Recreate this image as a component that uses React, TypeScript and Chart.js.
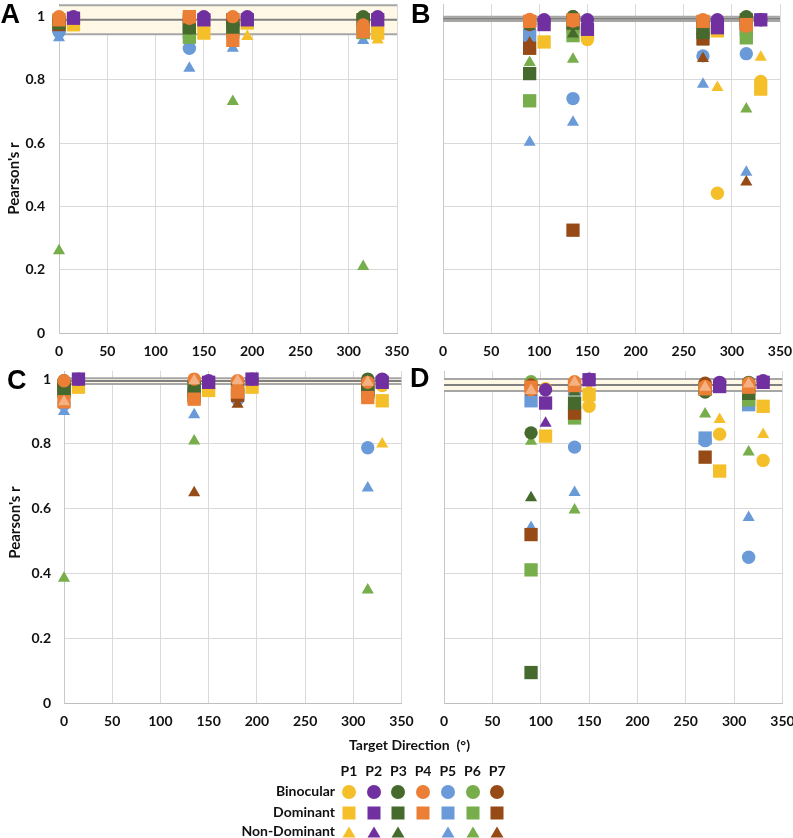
import React, { useEffect, useRef } from 'react';
import { Chart, registerables } from 'chart.js';

Chart.register(...registerables);

// ---------------- DATA ----------------
const participants = ['P1', 'P2', 'P3', 'P4', 'P5', 'P6', 'P7'];
const conditionLabels = ['Binocular', 'Dominant', 'Non-Dominant'];
// P1 and P2 were plotted 15° to the right of each target direction
const participantDirectionOffset = [15, 15, 0, 0, 0, 0, 0];
const xTickValues = [0, 50, 100, 150, 200, 250, 300, 350];
const yTickValues = [0, 0.2, 0.4, 0.6, 0.8, 1];

const directionsA = [0, 135, 180, 315];
const directionsB = [90, 135, 270, 315];
const directionsC = [0, 135, 180, 315];
const directionsD = [90, 135, 270, 315];

// rows P1..P7, columns = directions
const aBinocular = [
  [0.985, 0.975, 0.985, 0.975],
  [1.0, 1.0, 1.0, 1.0],
  [0.985, 0.965, 0.975, 1.0],
  [1.0, 0.995, 1.0, 0.974],
  [0.952, 0.9, 0.975, 0.96],
  [0.99, 0.96, 0.97, 0.953],
  [0.985, 0.99, 0.99, 0.995],
];
const aDominant = [
  [0.975, 0.948, 0.98, 0.948],
  [0.995, 0.99, 0.99, 0.99],
  [0.98, 0.965, 0.965, 0.99],
  [0.99, 1.0, 0.925, 0.953],
  [0.97, 0.95, 0.96, 0.95],
  [0.985, 0.935, 0.952, 0.95],
  [0.975, 0.99, 0.99, 0.99],
];
const aNonDominant = [
  [0.965, 0.97, 0.937, 0.926],
  [0.99, 0.99, 0.99, 0.985],
  [0.98, 0.96, 0.97, 0.985],
  [null, null, null, null],
  [0.933, 0.837, 0.9, 0.925],
  [0.26, 0.95, 0.732, 0.21],
  [0.98, 0.98, 0.985, 0.985],
];

const bBinocular = [
  [0.98, 0.928, 0.442, 0.795],
  [0.99, 0.99, 0.99, 0.99],
  [0.98, 1.0, 0.985, 1.0],
  [0.991, 0.986, 0.99, 0.97],
  [0.97, 0.741, 0.876, 0.883],
  [0.98, 0.97, 0.97, 0.96],
  [0.975, 1.0, 0.98, 0.995],
];
const bDominant = [
  [0.92, 0.95, 0.955, 0.771],
  [0.975, 0.96, 0.965, 0.99],
  [0.82, 0.98, 0.95, 0.99],
  [0.985, 0.99, 0.985, 0.975],
  [0.94, 0.97, 0.97, 0.96],
  [0.734, 0.94, 0.96, 0.933],
  [0.9, 0.325, 0.93, 0.98],
];
const bNonDominant = [
  [0.97, 0.96, 0.776, 0.872],
  [0.985, 0.975, 0.98, 0.985],
  [0.97, 0.945, 0.965, 0.985],
  [null, null, null, null],
  [0.603, 0.666, 0.786, 0.508],
  [0.855, 0.865, 0.92, 0.708],
  [0.917, 0.97, 0.868, 0.477],
];

const cBinocular = [
  [0.985, 0.97, 0.985, 0.98],
  [1.0, 0.995, 1.0, 1.0],
  [0.995, 0.99, 0.99, 1.0],
  [0.995, 1.0, 0.995, 0.99],
  [0.922, 0.97, 0.938, 0.788],
  [0.99, 0.98, 0.98, 0.98],
  [0.98, 0.99, 0.985, 0.99],
];
const cDominant = [
  [0.975, 0.965, 0.975, 0.933],
  [1.0, 0.99, 1.0, 0.99],
  [0.964, 0.964, 0.965, 0.959],
  [0.93, 0.938, 0.96, 0.943],
  [0.96, 0.96, 0.95, 0.97],
  [0.98, 0.945, 0.955, 0.97],
  [0.97, 0.95, 0.95, 0.965],
];
const cNonDominant = [
  [0.98, 0.97, 0.98, 0.8],
  [0.995, 0.99, 0.995, 0.985],
  [0.98, 0.975, 0.975, 0.975],
  [0.93, 0.995, 0.995, 0.99],
  [0.9, 0.89, 0.94, 0.664],
  [0.385, 0.809, 0.96, 0.349],
  [0.97, 0.649, 0.922, 0.98],
];

const dBinocular = [
  [0.97, 0.916, 0.83, 0.749],
  [0.967, 1.0, 0.99, 0.995],
  [0.834, 0.975, 0.96, 0.99],
  [0.967, 0.992, 0.977, 0.987],
  [0.975, 0.79, 0.81, 0.45],
  [0.992, 0.98, 0.98, 0.985],
  [0.982, 0.985, 0.987, 0.98],
];
const dDominant = [
  [0.824, 0.952, 0.716, 0.916],
  [0.926, 0.998, 0.977, 0.99],
  [0.094, 0.926, 0.97, 0.956],
  [0.975, 0.98, 0.97, 0.975],
  [0.933, 0.97, 0.818, 0.921],
  [0.411, 0.88, 0.97, 0.936],
  [0.52, 0.895, 0.759, 0.97],
];
const dNonDominant = [
  [0.93, 0.97, 0.875, 0.829],
  [0.864, 0.99, 0.985, 0.99],
  [0.634, 0.96, 0.975, 0.975],
  [0.965, 0.99, 0.975, 0.985],
  [0.542, 0.65, 0.96, 0.573],
  [0.808, 0.596, 0.892, 0.775],
  [0.96, 0.97, 0.975, 0.975],
];

// mean band: lower, mean, upper
const aMeanBand = [0.944, 0.99, 1.036];
const bMeanBand = [0.986, 0.993, 1.0];
const cMeanBand = [0.985, 0.994, 1.003];
const dMeanBand = [0.963, 0.982, 1.0];

// ---------------- STYLE ----------------
const participantColors = ['#F5BF2A', '#7030A0', '#466A2E', '#EB7F35', '#6A9BD8', '#77AD4A', '#964B17'];
const p4NonDominantColor = '#F4B183';
const markerStyles = ['circle', 'rect', 'triangle'];
const markerRadii = [6.7, 9.4, 7];
const drawParticipants = [0, 1, 4, 5, 6, 2, 3];
const drawConditions = [1, 0, 2];
const PAGE_W = 793;
const PAGE_H = 838;
const FONT = 'Lato, "Open Sans", sans-serif';

type Grid = (number | null)[][];
type PanelSpec = {
  letter: string;
  directions: number[];
  binocular: Grid;
  dominant: Grid;
  nonDominant: Grid;
  band: number[];
  yMax: number;
  plot: { left: number; right: number; top: number; bottom: number };
  showYLabels: boolean;
  yLabelPadding: number;
};

const panels: PanelSpec[] = [
  { letter: 'A', directions: directionsA, binocular: aBinocular, dominant: aDominant, nonDominant: aNonDominant, band: aMeanBand, yMax: 1.04, plot: { left: 59, right: 397, top: 4, bottom: 333 }, showYLabels: true, yLabelPadding: 14 },
  { letter: 'B', directions: directionsB, binocular: bBinocular, dominant: bDominant, nonDominant: bNonDominant, band: bMeanBand, yMax: 1.04, plot: { left: 443, right: 780, top: 4, bottom: 333 }, showYLabels: false, yLabelPadding: 14 },
  { letter: 'C', directions: directionsC, binocular: cBinocular, dominant: cDominant, nonDominant: cNonDominant, band: cMeanBand, yMax: 1.025, plot: { left: 64, right: 401.5, top: 371, bottom: 703 }, showYLabels: true, yLabelPadding: 13 },
  { letter: 'D', directions: directionsD, binocular: dBinocular, dominant: dDominant, nonDominant: dNonDominant, band: dMeanBand, yMax: 1.025, plot: { left: 444, right: 782.5, top: 371, bottom: 703 }, showYLabels: false, yLabelPadding: 14 },
];

const zeroPadding = () => ({ left: 0, top: 0, right: 0, bottom: 0 });

function buildConfig(p: PanelSpec): any {
  const yW = 50;
  const xH = 40;
  const series = [p.binocular, p.dominant, p.nonDominant];
  const datasets: any[] = [];
  let k = 0;
  for (const pi of drawParticipants) {
    for (const ci of drawConditions) {
      const vals = series[ci][pi];
      const color = ci === 2 && pi === 3 ? p4NonDominantColor : participantColors[pi];
      const data = p.directions
        .map((d, i) => ({ x: d + participantDirectionOffset[pi], y: vals[i] }))
        .filter((pt) => pt.y !== null);
      datasets.push({
        type: 'scatter',
        label: `${participants[pi]} ${conditionLabels[ci]}`,
        data,
        pointStyle: markerStyles[ci],
        pointRadius: markerRadii[ci],
        pointHoverRadius: markerRadii[ci],
        pointBackgroundColor: color,
        backgroundColor: color,
        borderColor: color,
        pointBorderWidth: 0,
        borderWidth: 0,
        clip: false,
        order: 500 - k,
      });
      k++;
    }
  }
  const n = datasets.length;
  const lineDs = (v: number, color: string, order: number, extra: any = {}) => ({
    type: 'line',
    data: [{ x: 0, y: v }, { x: 350, y: v }],
    borderColor: color,
    borderWidth: 2,
    pointRadius: 0,
    fill: false,
    order,
    ...extra,
  });
  datasets.push(lineDs(p.band[0], '#A6A6A6', 1000, { fill: n + 1, backgroundColor: '#FFF8E6' }));
  datasets.push(lineDs(p.band[2], '#A6A6A6', 999));
  datasets.push(lineDs(p.band[1], '#808080', 998));

  const tickFont = { family: FONT, size: 14, weight: 'bold' as const };
  return {
    type: 'scatter',
    data: { datasets },
    options: {
      animation: false,
      responsive: false,
      events: [],
      layout: {
        autoPadding: false,
        padding: {
          left: p.plot.left - yW,
          right: PAGE_W - p.plot.right,
          top: p.plot.top,
          bottom: PAGE_H - p.plot.bottom - xH,
        },
      },
      plugins: { legend: { display: false }, tooltip: { enabled: false }, title: { display: false } },
      scales: {
        x: {
          type: 'linear',
          min: 0,
          max: 350,
          afterBuildTicks: (s: any) => { s.ticks = xTickValues.map((v) => ({ value: v })); },
          afterFit: (s: any) => {
            s.height = xH;
            s.paddingLeft = 0; s.paddingRight = 0; s.paddingTop = 0; s.paddingBottom = 0;
            s.getPadding = zeroPadding;
          },
          grid: { color: '#D9D9D9', lineWidth: 1, drawTicks: false },
          border: { color: '#BFBFBF', width: 1 },
          ticks: { font: tickFont, color: '#111', padding: 10, maxRotation: 0, autoSkip: false, callback: (v: any) => String(v) },
        },
        y: {
          type: 'linear',
          min: 0,
          max: p.yMax,
          afterBuildTicks: (s: any) => { s.ticks = yTickValues.map((v) => ({ value: v })); },
          afterFit: (s: any) => {
            s.width = yW;
            s.paddingLeft = 0; s.paddingRight = 0; s.paddingTop = 0; s.paddingBottom = 0;
            s.getPadding = zeroPadding;
          },
          grid: { color: '#D9D9D9', lineWidth: 1, drawTicks: false },
          border: { color: '#C8C8C8', width: 1 },
          ticks: {
            display: p.showYLabels,
            font: tickFont,
            color: '#111',
            padding: p.yLabelPadding,
            autoSkip: false,
            callback: (v: any) => String(Number(Number(v).toFixed(1))),
          },
        },
      },
    },
  };
}

function PanelCanvas({ spec }: { spec: PanelSpec }) {
  const ref = useRef<HTMLCanvasElement | null>(null);
  useEffect(() => {
    if (!ref.current) return;
    const chart: any = new Chart(ref.current, buildConfig(spec));
    // correct any residual layout offsets so the plot area lands where intended
    for (let iter = 0; iter < 3; iter++) {
      const ca = chart.chartArea;
      if (!ca) break;
      const pad = chart.options.layout.padding;
      const dl = spec.plot.left - ca.left;
      const dt = spec.plot.top - ca.top;
      const dr = ca.right - spec.plot.right;
      const db = ca.bottom - spec.plot.bottom;
      if (Math.abs(dl) < 0.3 && Math.abs(dt) < 0.3 && Math.abs(dr) < 0.3 && Math.abs(db) < 0.3) break;
      chart.options.layout.padding = {
        left: pad.left + dl,
        top: pad.top + dt,
        right: pad.right + dr,
        bottom: pad.bottom + db,
      };
      chart.update();
    }
    return () => chart.destroy();
  }, [spec]);
  return (
    <canvas
      ref={ref}
      width={PAGE_W}
      height={PAGE_H}
      style={{ position: 'absolute', left: 0, top: 0, width: PAGE_W, height: PAGE_H }}
    />
  );
}

function Txt({ x, y, size = 14, align = 'center', children }: { x: number; y: number; size?: number; align?: 'center' | 'right' | 'left'; children: any }) {
  const w = 300;
  const left = align === 'center' ? x - w / 2 : align === 'right' ? x - w : x;
  return (
    <div
      style={{
        position: 'absolute',
        left,
        top: y - 0.53 * size,
        width: w,
        textAlign: align,
        fontFamily: FONT,
        fontWeight: 700,
        fontSize: size,
        lineHeight: `${size}px`,
        whiteSpace: 'nowrap',
        color: '#111',
      }}
    >
      {children}
    </div>
  );
}

function YTitle({ cx, cy }: { cx: number; cy: number }) {
  return (
    <div
      style={{
        position: 'absolute',
        left: cx - 60,
        top: cy - 7.5,
        width: 120,
        height: 15,
        lineHeight: '15px',
        textAlign: 'center',
        fontFamily: FONT,
        fontWeight: 700,
        fontSize: 15,
        color: '#111',
        whiteSpace: 'nowrap',
        transform: 'rotate(-90deg)',
        transformOrigin: 'center center',
      }}
    >
      Pearson's r
    </div>
  );
}

function PanelLetter({ x, capTop, children }: { x: number; capTop: number; children: any }) {
  const size = 27;
  return (
    <div
      style={{
        position: 'absolute',
        left: x,
        top: capTop - 0.1305 * size,
        fontFamily: '"Liberation Sans", Arial, sans-serif',
        fontWeight: 700,
        fontSize: size,
        lineHeight: `${size}px`,
        color: '#000',
      }}
    >
      {children}
    </div>
  );
}

function LegendMarker({ cx, cy, shape, color }: { cx: number; cy: number; shape: number; color: string }) {
  return (
    <svg width={16} height={16} style={{ position: 'absolute', left: cx - 8, top: cy - 8 }}>
      {shape === 0 && <circle cx={8} cy={8} r={7} fill={color} />}
      {shape === 1 && <rect x={1.5} y={1.5} width={13} height={13} fill={color} />}
      {shape === 2 && <polygon points="8,2.5 14.5,13.5 1.5,13.5" fill={color} />}
    </svg>
  );
}

export default function App() {
  const legendX0 = 349;
  const legendDx = 24.7;
  const rowY = [791.7, 812.5, 831.5];
  return (
    <div style={{ position: 'absolute', left: 0, top: 0, width: PAGE_W, height: PAGE_H, overflow: 'hidden', background: '#fff' }}>
      {panels.map((p) => (
        <PanelCanvas key={p.letter} spec={p} />
      ))}
      <PanelLetter x={0.5} capTop={5}>A</PanelLetter>
      <PanelLetter x={411} capTop={5}>B</PanelLetter>
      <PanelLetter x={7} capTop={371}>C</PanelLetter>
      <PanelLetter x={410} capTop={369}>D</PanelLetter>
      <YTitle cx={13} cy={178} />
      <YTitle cx={14} cy={522} />
      <Txt x={409.5} y={745.5}>Target Direction&nbsp;&nbsp;(°)</Txt>
      {participants.map((name, i) => (
        <Txt key={name} x={legendX0 + i * legendDx} y={771.7}>{name}</Txt>
      ))}
      {conditionLabels.map((c, ri) => (
        <Txt key={c} x={335} y={rowY[ri]} align="right">{c}</Txt>
      ))}
      {conditionLabels.map((c, ri) =>
        participants.map((name, i) =>
          ri === 2 && i === 3 ? null : (
            <LegendMarker key={c + name} cx={legendX0 + i * legendDx} cy={rowY[ri]} shape={ri} color={participantColors[i]} />
          )
        )
      )}
    </div>
  );
}
